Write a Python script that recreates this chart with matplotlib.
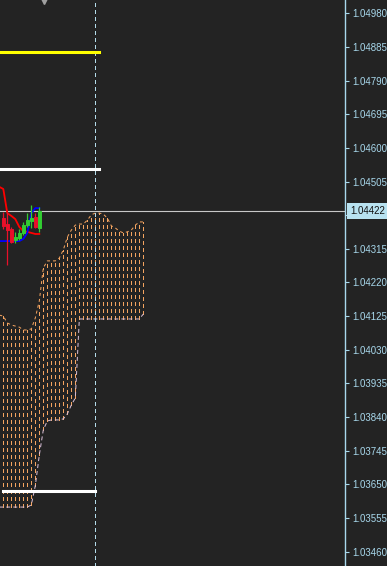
import matplotlib.pyplot as plt
import matplotlib.transforms as mtransforms
import numpy as np

# bars: -1 is the partly hidden one at the left edge, 9 is the live candle
cloud_bars = np.arange(-1, 36)
line_bars = np.arange(-1, 10)
candle_bars = np.arange(0, 10)

candle_open = [1.04402, 1.04385, 1.04371, 1.04340, 1.04346, 1.04360, 1.04382, 1.04394, 1.04405, 1.04374]
candle_high = [1.04419, 1.04419, 1.04377, 1.04363, 1.04371, 1.04391, 1.04416, 1.04439, 1.04416, 1.04433]
candle_low = [1.04371, 1.04269, 1.04332, 1.04332, 1.04340, 1.04354, 1.04377, 1.04374, 1.04374, 1.04363]
candle_close = [1.04380, 1.04368, 1.04334, 1.04348, 1.04360, 1.04382, 1.04396, 1.04402, 1.04377, 1.04422]

tenkan = [1.04490, 1.04484, 1.04416, 1.04408, 1.04399, 1.04377, 1.04365, 1.04363, 1.04360, 1.04357, 1.04357]
kijun = [1.04337, 1.04337, 1.04337, 1.04337, 1.04337, 1.04337, 1.04343, 1.04360, 1.04416, 1.04430, 1.04430]

span_a = [1.04128, 1.04125, 1.04106, 1.04100, 1.04097, 1.04094, 1.04086, 1.04086, 1.04089, 1.04120,
          1.04168, 1.04261, 1.04281, 1.04281, 1.04281, 1.04289, 1.04312, 1.04348, 1.04368, 1.04382,
          1.04385, 1.04385, 1.04396, 1.04411, 1.04416, 1.04416, 1.04413, 1.04402, 1.04380, 1.04374,
          1.04365, 1.04360, 1.04363, 1.04368, 1.04382, 1.04391, 1.04391]
span_b = [1.03586, 1.03586, 1.03586, 1.03586, 1.03586, 1.03586, 1.03586, 1.03586, 1.03592, 1.03646,
          1.03733, 1.03804, 1.03829, 1.03832, 1.03832, 1.03832, 1.03835, 1.03849, 1.03874, 1.03894,
          1.04117, 1.04117, 1.04117, 1.04117, 1.04117, 1.04117, 1.04117, 1.04117, 1.04117, 1.04117,
          1.04117, 1.04117, 1.04117, 1.04117, 1.04117, 1.04117, 1.04131]

level_yellow = 1.04870
level_white_top = 1.04540
level_white_bottom = 1.03631
current_price = 1.04422

price_ticks = [1.04980, 1.04885, 1.04790, 1.04695, 1.04600, 1.04505, 1.04410, 1.04315,
               1.04220, 1.04125, 1.04030, 1.03935, 1.03840, 1.03745, 1.03650, 1.03555, 1.03460]

bg = '#232323'
axis_col = '#a8d8ec'
bull = '#32cd32'
bear = '#e8102a'

fig = plt.figure(figsize=(3.87, 5.66), dpi=100)
fig.patch.set_facecolor(bg)
ax = fig.add_axes([0, 0, 345 / 387, 1])
ax.set_facecolor(bg)

# ichimoku cloud, hatched with dotted vertical lines
ax.vlines(cloud_bars, span_b, span_a, colors='#f4a460', linewidth=0.72,
          linestyles=[(0, (3, 3))], antialiased=False, zorder=1)
ax.plot(cloud_bars, span_a, color='#f4a460', lw=0.72, ls=(0, (3, 3)), zorder=1)
ax.plot(cloud_bars, span_b, color='#d8bfd8', lw=0.72, ls=(0, (4, 3)), zorder=1)

# tenkan / kijun
ax.plot(line_bars, tenkan, color='#ff0000', lw=1.3, zorder=3)
ax.plot(line_bars, kijun, color='#0000ff', lw=1.3, zorder=3)

# candles
cols = [bull if c >= o else bear for o, c in zip(candle_open, candle_close)]
ax.vlines(candle_bars, candle_low, candle_high, colors=cols, lw=0.9, zorder=4)
bottoms = np.minimum(candle_open, candle_close)
heights = np.abs(np.array(candle_close) - np.array(candle_open))
ax.bar(candle_bars, heights, bottom=bottoms, width=0.6, color=cols,
       edgecolor=cols, lw=0.7, zorder=5)

# horizontal levels
ax.plot([-1, 24], [level_yellow] * 2, color='#ffff00', lw=2.2,
        solid_capstyle='projecting', zorder=6)
ax.plot([-1, 24], [level_white_top] * 2, color='#ffffff', lw=2.2,
        solid_capstyle='projecting', zorder=6)
ax.plot([0, 23], [level_white_bottom] * 2, color='#ffffff', lw=2.2,
        solid_capstyle='projecting', zorder=6)

# period separator and current price line
ax.axvline(23, color='#b4dcea', lw=0.72, ls=(0, (4, 4)), antialiased=False, zorder=2)
ax.axhline(current_price, color='#c8c8c8', lw=0.8, zorder=2)

ax.set_xlim(-0.825, 85.4)
ax.set_ylim(1.0341962, 1.0501755)

ax.set_xticks([])
ax.yaxis.tick_right()
ax.set_yticks(price_ticks)
ax.set_yticklabels([f'{v:.5f}' for v in price_ticks], fontfamily='Liberation Sans')
ax.tick_params(axis='y', colors=axis_col, labelsize=7, length=3, width=0.8, pad=2)
for side in ['left', 'top', 'bottom']:
    ax.spines[side].set_visible(False)
ax.spines['right'].set_color(axis_col)
ax.spines['right'].set_linewidth(1)

trans = mtransforms.blended_transform_factory(ax.transAxes, ax.transData)
ax.text(1.015, current_price, '1.04422', transform=trans, ha='left', va='center',
        fontsize=7, fontfamily='Liberation Sans', color='#111111', clip_on=False, zorder=10,
        bbox=dict(boxstyle='square,pad=0.3', fc='#b8e2f0', ec='none'))

# chart shift marker at the top
shift_bar = 10.2
trans_top = mtransforms.blended_transform_factory(ax.transData, ax.transAxes)
ax.plot([shift_bar], [0.998], marker='v', ms=5, color='#a0a0a0', transform=trans_top,
        clip_on=False, zorder=10)

fig.savefig('out.png', dpi=100, facecolor=bg)
